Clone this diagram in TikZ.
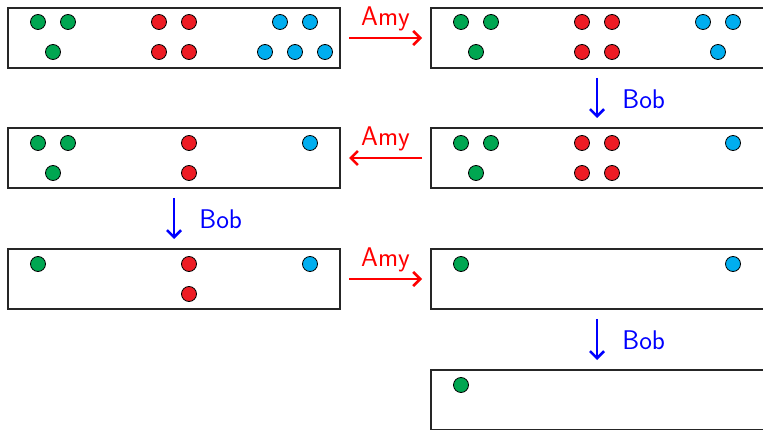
\documentclass[tikz,border=0pt]{standalone}
\usepackage{fontspec}
\usetikzlibrary{arrows.meta,calc}
\definecolor{cgreen}{RGB}{0,166,81}
\definecolor{cred}{RGB}{237,28,36}
\definecolor{cblue}{RGB}{0,174,239}
\begin{document}
\begin{tikzpicture}[x=1pt,y=-1pt,
  box/.style={draw=black!85,line width=1.3pt,minimum width=332pt,minimum height=60pt,inner sep=0pt,outer sep=0pt},
  rbox/.style={box,minimum width=344pt},
  ball/.style={circle,draw=black,line width=0.8pt,minimum size=15pt,inner sep=0pt},
  g/.style={ball,fill=cgreen},
  r/.style={ball,fill=cred},
  b/.style={ball,fill=cblue},
  amy/.style={draw=red,line width=2.8pt,-{Straight Barb[length=7pt,width=14pt,line width=2.6pt]}},
  bob/.style={draw=blue,line width=2.8pt,-{Straight Barb[length=7pt,width=14pt,line width=2.6pt]}},
  lab/.style={font=\sffamily\fontsize{27}{27}\selectfont,inner sep=0pt},
  amylab/.style={lab,text=red,anchor=base,yshift=12pt},
  boblab/.style={lab,text=blue,anchor=west,xshift=24pt,yshift=-1pt}]
\clip (0,0) rectangle (763,430);
\useasboundingbox (0,0) rectangle (763,430);
% boxes (right-hand boxes run past the right edge)
\node[box] (b1) at (174,38) {};
\node[rbox] (b2) at (603,38) {};
\node[rbox] (b3) at (603,158) {};
\node[box] (b4) at (174,158) {};
\node[box] (b5) at (174,279) {};
\node[rbox] (b6) at (603,279) {};
\node[rbox] (b7) at (603,400) {};
% box 1
\node[g] (b1g1) at (38,22) {};
\node[g] (b1g2) at (68,22) {};
\node[g] (b1g3) at (53,52) {};
\node[r] (b1r1) at (159,22) {};
\node[r] (b1r2) at (189,22) {};
\node[r] (b1r3) at (159,52) {};
\node[r] (b1r4) at (189,52) {};
\node[b] (b1b1) at (280,22) {};
\node[b] (b1b2) at (310,22) {};
\node[b] (b1b3) at (265,52) {};
\node[b] (b1b4) at (295,52) {};
\node[b] (b1b5) at (325,52) {};
% box 2
\node[g] (b2g1) at (461,22) {};
\node[g] (b2g2) at (491,22) {};
\node[g] (b2g3) at (476,52) {};
\node[r] (b2r1) at (582,22) {};
\node[r] (b2r2) at (612,22) {};
\node[r] (b2r3) at (582,52) {};
\node[r] (b2r4) at (612,52) {};
\node[b] (b2b1) at (703,22) {};
\node[b] (b2b2) at (733,22) {};
\node[b] (b2b3) at (718,52) {};
% box 3
\node[g] (b3g1) at (461,143) {};
\node[g] (b3g2) at (491,143) {};
\node[g] (b3g3) at (476,173) {};
\node[r] (b3r1) at (582,143) {};
\node[r] (b3r2) at (612,143) {};
\node[r] (b3r3) at (582,173) {};
\node[r] (b3r4) at (612,173) {};
\node[b] (b3b1) at (733,143) {};
% box 4
\node[g] (b4g1) at (38,143) {};
\node[g] (b4g2) at (68,143) {};
\node[g] (b4g3) at (53,173) {};
\node[r] (b4r1) at (189,143) {};
\node[r] (b4r2) at (189,173) {};
\node[b] (b4b1) at (310,143) {};
% box 5
\node[g] (b5g1) at (38,264) {};
\node[r] (b5r1) at (189,264) {};
\node[r] (b5r2) at (189,294) {};
\node[b] (b5b1) at (310,264) {};
% box 6
\node[g] (b6g1) at (461,264) {};
\node[b] (b6b1) at (733,264) {};
% box 7
\node[g] (b7g1) at (461,385) {};
% arrow anchor points for the right-hand column (x = 597)
\coordinate (b2s) at ($(b2.south west)+(166,0)$);
\coordinate (b3n) at ($(b3.north west)+(166,0)$);
\coordinate (b6s) at ($(b6.south west)+(166,0)$);
\coordinate (b7n) at ($(b7.north west)+(166,0)$);
% arrows
\draw[amy,shorten <=9pt,shorten >=9pt] (b1.east) -- (b2.west) node[midway,amylab] (l1) {Amy};
\draw[bob,shorten <=10pt,shorten >=10pt] (b2s) -- (b3n) node[midway,boblab] (l2) {Bob};
\draw[amy,shorten <=9pt,shorten >=9pt] (b3.west) -- (b4.east) node[midway,amylab] (l3) {Amy};
\draw[bob,shorten <=10pt,shorten >=10pt] (b4.south) -- (b5.north) node[midway,boblab] (l4) {Bob};
\draw[amy,shorten <=9pt,shorten >=9pt] (b5.east) -- (b6.west) node[midway,amylab] (l5) {Amy};
\draw[bob,shorten <=10pt,shorten >=10pt] (b6s) -- (b7n) node[midway,boblab] (l6) {Bob};
\end{tikzpicture}
\end{document}
